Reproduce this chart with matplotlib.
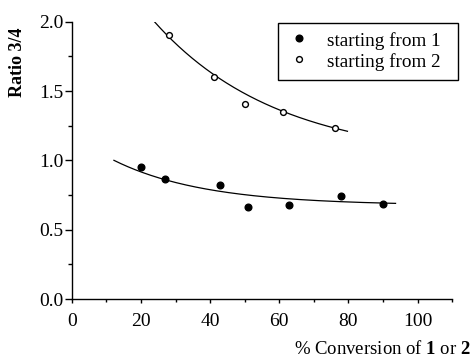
import numpy as np
import matplotlib
matplotlib.use("Agg")
import matplotlib.pyplot as plt
from matplotlib.ticker import MultipleLocator
from matplotlib.patches import Rectangle
from matplotlib.lines import Line2D

plt.rcParams['font.family'] = ['Liberation Serif', 'DejaVu Serif']
plt.rcParams['mathtext.fontset'] = 'custom'
plt.rcParams['mathtext.rm'] = 'Liberation Serif'
plt.rcParams['mathtext.bf'] = 'Liberation Serif:bold'

# data
conv1 = [20.0, 27.0, 42.9, 51.0, 62.9, 77.9, 89.9]
ratio1 = [0.952, 0.864, 0.825, 0.666, 0.678, 0.741, 0.683]
conv2 = [28.1, 41.2, 50.1, 61.0, 76.0]
ratio2 = [1.905, 1.604, 1.407, 1.347, 1.232]
labels = ['starting from 1', 'starting from 2']

# exponential fit curves y = a + b*exp(-k x), parameters
fit1 = dict(a=0.675, b=0.517, k=0.038, xmin=12.2, xmax=93.6)
fit2 = dict(a=1.0, b=1.953, k=0.028, xmin=23.9, xmax=79.7)

xticks = [0, 20, 40, 60, 80, 100]
yticks = [0.0, 0.5, 1.0, 1.5, 2.0]

W, H = 474, 358
fig = plt.figure(figsize=(W / 100, H / 100), dpi=100)
ax = fig.add_axes([0.1513, 0.1648, 0.9542 - 0.1513, 0.9394 - 0.1648])

for f in (fit1, fit2):
    xs = np.linspace(f['xmin'], f['xmax'], 200)
    ax.plot(xs, f['a'] + f['b'] * np.exp(-f['k'] * xs), color='black', lw=0.9)

style1 = dict(marker='o', color='black', ms=4.8, ls='none')
style2 = dict(marker='o', mfc='white', mec='black', mew=1.0, ms=4.2, ls='none')
ax.plot(conv1, ratio1, **style1)
ax.plot(conv2, ratio2, **style2)

ax.set_xlim(0, 110)
ax.set_ylim(0, 2.0)
ax.set_xticks(xticks)
ax.set_xticklabels([str(t) for t in xticks])
ax.set_yticks(yticks)
ax.set_yticklabels([f"{t:.1f}" for t in yticks])
ax.xaxis.set_minor_locator(MultipleLocator(10))
ax.yaxis.set_minor_locator(MultipleLocator(0.25))

for s in ('top', 'right'):
    ax.spines[s].set_visible(False)
for s in ('left', 'bottom'):
    ax.spines[s].set_linewidth(1.0)

ax.tick_params(axis='y', which='major', direction='out', length=5, width=1, labelsize=14, pad=1)
ax.tick_params(axis='y', which='minor', direction='out', length=3, width=1)
ax.tick_params(axis='x', which='major', direction='out', length=3, width=1, labelsize=14, pad=7)
ax.tick_params(axis='x', which='minor', direction='out', length=2, width=1)

# y label (placed high on the axis as in the reference)
fig.text(18 / W, 1 - 62 / H, 'Ratio 3/4', rotation=90, ha='center', va='center',
         fontsize=13, fontweight='bold')
# x label at bottom right
fig.text(471 / W, 1 - 354.5 / H, r'% Conversion of $\mathbf{1}$ or $\mathbf{2}$',
         ha='right', va='baseline', fontsize=13.5)

# legend box drawn in figure pixels
fig.patches.append(Rectangle((278 / W, 1 - 80 / H), (458 - 278) / W, (80 - 23.3) / H,
                             transform=fig.transFigure, fill=False, edgecolor='black',
                             lw=1.0, zorder=5))
marker_rows = [37.7, 58.7]
text_rows = [41.0, 62.0]
for lab, st, my, ty in zip(labels, (style1, style2), marker_rows, text_rows):
    fig.lines.append(Line2D([299 / W], [1 - my / H], transform=fig.transFigure, **st))
    fig.text(327 / W, 1 - ty / H, lab, ha='left', va='center', fontsize=13.8)

fig.savefig('out.png', dpi=100)
